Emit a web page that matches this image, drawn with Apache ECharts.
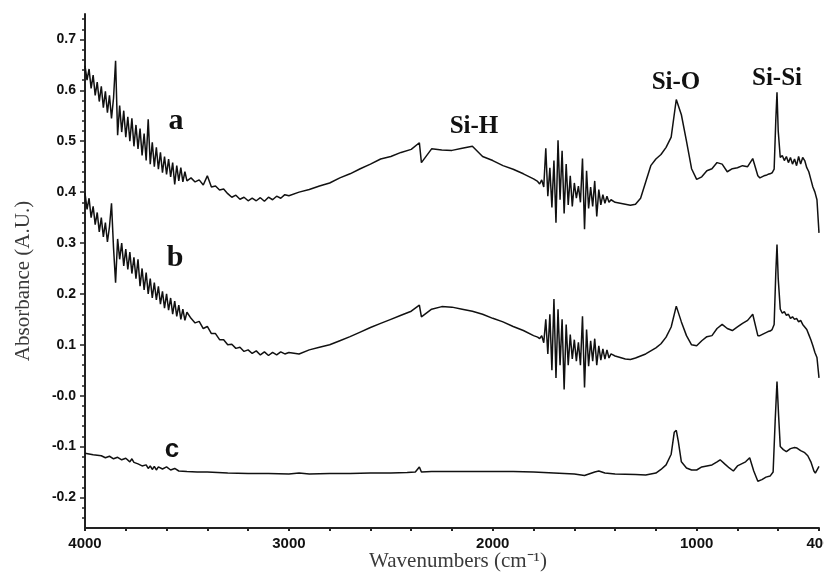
<!DOCTYPE html>
<html>
<head>
<meta charset="utf-8">
<script src="https://cdn.jsdelivr.net/npm/echarts@6/dist/echarts.min.js"></script>
<style>
  html, body { margin: 0; padding: 0; background: #fff; }
  #chart { width: 824px; height: 585px; }
</style>
</head>
<body>
<div id="chart"></div>
<script>
// wavenumber grid shared by spectra a and b (cm-1)
const wavenumbersAB = [
  4000, 3990, 3980, 3970, 3960, 3950, 3940, 3930, 3920, 3910,
  3900, 3890, 3880, 3870, 3860, 3850, 3840, 3830, 3820, 3810,
  3800, 3790, 3780, 3770, 3760, 3750, 3740, 3730, 3720, 3710,
  3700, 3690, 3680, 3670, 3660, 3650, 3640, 3630, 3620, 3610,
  3600, 3590, 3580, 3570, 3560, 3550, 3540, 3530, 3520, 3510, 3500,
  3480, 3460, 3440, 3420, 3400, 3380, 3360, 3340, 3320, 3300,
  3280, 3260, 3240, 3220, 3200, 3180, 3160, 3140, 3120, 3100,
  3080, 3060, 3040, 3020, 3000,
  2950, 2900, 2850, 2800, 2750, 2700, 2650, 2600, 2550, 2500,
  2450, 2400, 2360, 2350, 2300, 2250, 2200, 2150, 2100, 2050,
  2000, 1950, 1900, 1850, 1800,
  1780, 1770, 1760, 1750, 1740, 1730, 1720, 1710, 1700, 1690,
  1680, 1670, 1660, 1650, 1640, 1630, 1620, 1610, 1600, 1590,
  1580, 1570, 1560, 1550, 1540, 1530, 1520, 1510, 1500, 1490,
  1480, 1470, 1460, 1450, 1440, 1430, 1420,
  1400, 1375, 1350, 1325, 1300, 1275, 1250, 1225, 1200, 1175,
  1150, 1125, 1100, 1075, 1050, 1025, 1000, 975, 950, 925,
  900, 875, 850, 825, 800, 775, 750, 725, 700,
  690, 680, 670, 660, 650, 640, 630, 620, 612, 606,
  600, 590, 580, 570, 560, 550, 540, 530, 520, 510,
  500, 490, 480, 470, 460, 450, 440, 430, 420, 410, 400
];

const absorbanceA = [
  0.648, 0.620, 0.642, 0.604, 0.630, 0.590, 0.616, 0.578, 0.608, 0.566,
  0.598, 0.556, 0.590, 0.545, 0.585, 0.658, 0.512, 0.570, 0.518, 0.560,
  0.508, 0.548, 0.500, 0.545, 0.490, 0.532, 0.485, 0.525, 0.472, 0.515,
  0.462, 0.543, 0.455, 0.498, 0.450, 0.488, 0.445, 0.478, 0.438, 0.470,
  0.435, 0.465, 0.430, 0.458, 0.415, 0.452, 0.422, 0.448, 0.420, 0.440, 0.422,
  0.428, 0.420, 0.424, 0.414, 0.432, 0.410, 0.412, 0.404, 0.406, 0.397,
  0.390, 0.394, 0.386, 0.390, 0.383, 0.388, 0.383, 0.389, 0.382, 0.390,
  0.385, 0.392, 0.388, 0.395, 0.393,
  0.400, 0.405, 0.412, 0.418, 0.428, 0.436, 0.446, 0.455, 0.465, 0.470,
  0.478, 0.484, 0.497, 0.458, 0.485, 0.483, 0.482, 0.486, 0.490, 0.470,
  0.462, 0.452, 0.445, 0.436, 0.426,
  0.421, 0.416, 0.424, 0.410, 0.486, 0.392, 0.448, 0.370, 0.462, 0.340,
  0.502, 0.385, 0.481, 0.358, 0.455, 0.375, 0.432, 0.372, 0.418, 0.388,
  0.412, 0.380, 0.466, 0.327, 0.442, 0.368, 0.410, 0.372, 0.422, 0.352,
  0.405, 0.375, 0.395, 0.378, 0.392, 0.380, 0.385,
  0.380, 0.378, 0.376, 0.374, 0.376, 0.388, 0.420, 0.452, 0.465, 0.474,
  0.488, 0.508, 0.582, 0.552, 0.500, 0.446, 0.425, 0.430, 0.442, 0.446,
  0.458, 0.455, 0.440, 0.446, 0.448, 0.452, 0.450, 0.466, 0.432,
  0.428, 0.430, 0.432, 0.433, 0.435, 0.436, 0.438, 0.445, 0.540, 0.596,
  0.520, 0.468, 0.472, 0.462, 0.470, 0.458, 0.468, 0.455, 0.465, 0.452,
  0.470, 0.455, 0.468, 0.462, 0.448, 0.440, 0.425, 0.410, 0.400, 0.385, 0.320
];

const absorbanceB = [
  0.398, 0.366, 0.388, 0.350, 0.372, 0.336, 0.360, 0.322, 0.350, 0.312,
  0.340, 0.302, 0.332, 0.378, 0.290, 0.222, 0.308, 0.268, 0.300, 0.255,
  0.288, 0.248, 0.282, 0.240, 0.272, 0.230, 0.268, 0.215, 0.250, 0.208,
  0.242, 0.200, 0.230, 0.192, 0.222, 0.188, 0.215, 0.180, 0.205, 0.172,
  0.200, 0.168, 0.192, 0.160, 0.186, 0.156, 0.178, 0.150, 0.170, 0.148, 0.164,
  0.152, 0.143, 0.146, 0.132, 0.136, 0.122, 0.122, 0.110, 0.110, 0.100,
  0.101, 0.093, 0.095, 0.087, 0.090, 0.083, 0.088, 0.080, 0.086, 0.079,
  0.085, 0.080, 0.086, 0.082, 0.085,
  0.082, 0.090, 0.095, 0.100, 0.108, 0.116, 0.125, 0.134, 0.142, 0.150,
  0.158, 0.166, 0.178, 0.155, 0.170, 0.175, 0.174, 0.170, 0.166, 0.160,
  0.152, 0.145, 0.136, 0.128, 0.118,
  0.115, 0.112, 0.118, 0.104, 0.150, 0.082, 0.160, 0.050, 0.190, 0.035,
  0.170, 0.060, 0.150, 0.012, 0.140, 0.060, 0.120, 0.072, 0.110, 0.068,
  0.105, 0.060, 0.156, 0.016, 0.130, 0.058, 0.108, 0.068, 0.112, 0.060,
  0.098, 0.070, 0.092, 0.072, 0.090, 0.074, 0.082,
  0.078, 0.075, 0.072, 0.071, 0.074, 0.078, 0.082, 0.088, 0.094, 0.102,
  0.115, 0.135, 0.176, 0.145, 0.118, 0.100, 0.098, 0.108, 0.116, 0.118,
  0.132, 0.140, 0.132, 0.128, 0.135, 0.142, 0.148, 0.160, 0.118,
  0.118, 0.120, 0.122, 0.124, 0.126, 0.127, 0.130, 0.140, 0.240, 0.297,
  0.230, 0.170, 0.162, 0.165, 0.158, 0.160, 0.152, 0.155, 0.150, 0.152,
  0.145, 0.148, 0.140, 0.135, 0.130, 0.120, 0.110, 0.098, 0.085, 0.075, 0.035
];

// spectrum c has its own (coarser) grid
const wavenumbersC = [
  4000, 3960, 3920, 3900, 3880, 3860, 3840, 3820, 3800, 3780,
  3770, 3760, 3740, 3720, 3700, 3690, 3680, 3670, 3660, 3650,
  3640, 3620, 3600, 3580, 3560, 3540, 3500, 3450, 3400, 3350,
  3300, 3200, 3100, 3000, 2950, 2900, 2800, 2700, 2600, 2500,
  2420, 2380, 2360, 2350, 2300, 2200, 2100, 2000, 1900, 1800,
  1700, 1600, 1550, 1500, 1480, 1450, 1400, 1300, 1250, 1200,
  1175, 1150, 1125, 1110, 1100, 1090, 1075, 1050, 1025, 1000,
  975, 950, 925, 900, 885, 860, 840, 820, 800, 780,
  760, 740, 720, 700, 680, 660, 640, 625, 615, 606,
  598, 590, 575, 560, 540, 520, 508, 490, 470, 455,
  440, 425, 418, 400
];

const absorbanceC = [
  -0.113, -0.116, -0.118, -0.122, -0.119, -0.124, -0.121, -0.126, -0.123, -0.130,
  -0.124, -0.131, -0.134, -0.138, -0.136, -0.143, -0.138, -0.145, -0.139, -0.146,
  -0.140, -0.144, -0.140, -0.146, -0.143, -0.148, -0.149, -0.150, -0.150, -0.151,
  -0.152, -0.153, -0.153, -0.154, -0.152, -0.154, -0.153, -0.153, -0.152, -0.152,
  -0.151, -0.150, -0.140, -0.150, -0.149, -0.149, -0.149, -0.149, -0.149, -0.150,
  -0.152, -0.154, -0.157, -0.150, -0.148, -0.152, -0.154, -0.155, -0.156, -0.152,
  -0.145, -0.136, -0.115, -0.072, -0.068, -0.090, -0.130, -0.142, -0.146, -0.146,
  -0.140, -0.138, -0.136, -0.130, -0.126, -0.135, -0.142, -0.148, -0.138, -0.134,
  -0.130, -0.122, -0.148, -0.168, -0.165, -0.160, -0.158, -0.150, -0.050, 0.028,
  -0.040, -0.100, -0.106, -0.110, -0.104, -0.102, -0.103, -0.108, -0.112, -0.118,
  -0.130, -0.148, -0.152, -0.139
];

const xLabelValues = [4000, 3000, 2000, 1000, 400];
const xTickValues = [4000, 3800, 3600, 3400, 3200, 3000, 2800, 2600, 2400, 2200,
  2000, 1800, 1600, 1400, 1200, 1000, 800, 600, 400];
const yLabelValues = [-0.2, -0.1, 0, 0.1, 0.2, 0.3, 0.4, 0.5, 0.6, 0.7];
const yMinorTicks = [-0.24, -0.22, -0.18, -0.16, -0.14, -0.12, -0.08, -0.06, -0.04, -0.02,
  0.02, 0.04, 0.06, 0.08, 0.12, 0.14, 0.16, 0.18, 0.22, 0.24, 0.26, 0.28,
  0.32, 0.34, 0.36, 0.38, 0.42, 0.44, 0.46, 0.48, 0.52, 0.54, 0.56, 0.58,
  0.62, 0.64, 0.66, 0.68, 0.72, 0.74];

function pairs(xs, ys) {
  return xs.map((x, i) => [x, ys[i]]);
}

const axisColor = '#222';
const tickFont = { color: '#111', fontFamily: 'Liberation Sans, Arial, sans-serif', fontWeight: 'bold' };
const serif = 'Liberation Serif, Times New Roman, serif';

const chart = echarts.init(document.getElementById('chart'));

function lineSeries(name, data) {
  return {
    name: name,
    type: 'line',
    data: data,
    showSymbol: false,
    silent: true,
    lineStyle: { color: '#111', width: 1.5 },
    emphasis: { disabled: true }
  };
}

// text placed on top of the plot: curve letters and band names
function label(text, x, y, font) {
  return {
    type: 'text',
    x: x,
    y: y,
    style: {
      text: text,
      font: font,
      fill: '#111',
      align: 'center',
      verticalAlign: 'middle',
      textAlign: 'center',
      textVerticalAlign: 'middle'
    }
  };
}

const option = {
  animation: false,
  grid: { left: 85, right: 5, top: 14, bottom: 57, outerBoundsMode: 'none' },
  xAxis: {
    type: 'value',
    inverse: true,
    min: 400,
    max: 4000,
    axisLine: { onZero: false, lineStyle: { color: axisColor, width: 2 } },
    axisTick: { customValues: xTickValues, length: 3, lineStyle: { color: axisColor, width: 2 } },
    axisLabel: Object.assign({
      customValues: xLabelValues,
      fontSize: 15,
      margin: 8,
      formatter: v => String(v)
    }, tickFont),
    splitLine: { show: false }
  },
  yAxis: [
    {
      type: 'value',
      min: -0.26,
      max: 0.75,
      axisLine: { show: true, onZero: false, lineStyle: { color: axisColor, width: 2 } },
      axisTick: { show: true, customValues: yLabelValues, length: 5, lineStyle: { color: axisColor, width: 1.5 } },
      axisLabel: Object.assign({
        customValues: yLabelValues,
        fontSize: 14,
        margin: 9,
        formatter: v => (Math.abs(v) < 1e-9 ? '-0.0' : v.toFixed(1))
      }, tickFont),
      splitLine: { show: false }
    },
    {
      type: 'value',
      min: -0.26,
      max: 0.75,
      position: 'left',
      axisLine: { show: false, onZero: false },
      axisTick: { show: true, customValues: yMinorTicks, length: 3, lineStyle: { color: axisColor, width: 1.5 } },
      axisLabel: { show: false },
      splitLine: { show: false }
    }
  ],
  series: [
    lineSeries('a', pairs(wavenumbersAB, absorbanceA)),
    lineSeries('b', pairs(wavenumbersAB, absorbanceB)),
    lineSeries('c', pairs(wavenumbersC, absorbanceC))
  ],
  graphic: [
    label('a', 176, 121, 'bold 30px ' + serif),
    label('b', 175, 258, 'bold 30px ' + serif),
    label('c', 172, 450, 'bold 26px Liberation Sans, Arial, sans-serif'),
    label('Si-H', 474, 127, 'bold 25px ' + serif),
    label('Si-O', 676, 83, 'bold 25px ' + serif),
    label('Si-Si', 777, 79, 'bold 25px ' + serif),
    {
      type: 'text',
      x: 23,
      y: 281,
      rotation: Math.PI / 2,
      style: {
        text: 'Absorbance (A.U.)',
        font: '21px ' + serif,
        fill: '#3a3a3a',
        align: 'center',
        verticalAlign: 'middle',
        textAlign: 'center',
        textVerticalAlign: 'middle'
      }
    },
    {
      type: 'text',
      x: 458,
      y: 561,
      style: {
        text: 'Wavenumbers (cm\u207B\u00B9)',
        font: '21px ' + serif,
        fill: '#3a3a3a',
        align: 'center',
        verticalAlign: 'middle',
        textAlign: 'center',
        textVerticalAlign: 'middle'
      }
    }
  ]
};

chart.setOption(option);
</script>
</body>
</html>
